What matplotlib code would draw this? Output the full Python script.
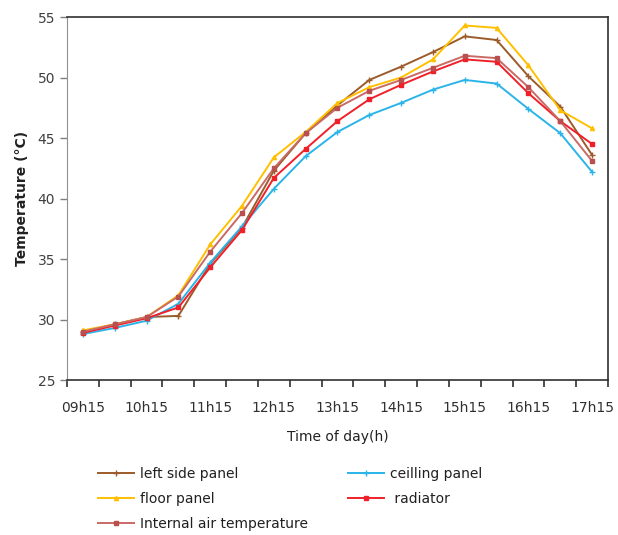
import numpy as np
import matplotlib
matplotlib.use("Agg")
import matplotlib.pyplot as plt
from matplotlib.ticker import FixedLocator

horas = ["09h15", "10h15", "11h15", "12h15", "13h15", "14h15", "15h15", "16h15", "17h15"]

# lecturas cada media hora, de 09h15 a 17h15
left_side = [29.0, 29.6, 30.2, 30.3, 34.6, 37.6, 42.3, 45.4, 47.7, 49.8, 50.9, 52.1, 53.4, 53.1, 50.1, 47.6, 43.6]
ceiling = [28.8, 29.3, 29.9, 31.3, 34.7, 37.7, 40.8, 43.5, 45.5, 46.9, 47.9, 49.0, 49.8, 49.5, 47.4, 45.4, 42.2]
floor_p = [29.1, 29.6, 30.2, 32.0, 36.2, 39.4, 43.4, 45.5, 47.9, 49.2, 50.0, 51.5, 54.3, 54.1, 51.0, 47.3, 45.8]
radiator = [28.9, 29.5, 30.1, 31.0, 34.3, 37.4, 41.7, 44.1, 46.4, 48.2, 49.4, 50.5, 51.5, 51.3, 48.7, 46.4, 44.5]
internal = [29.0, 29.6, 30.2, 31.9, 35.6, 38.8, 42.5, 45.4, 47.5, 48.9, 49.8, 50.8, 51.8, 51.6, 49.2, 46.4, 43.1]

def graficar():
    fig = plt.figure(figsize=(6.18, 5.35), dpi=100)
    ax = fig.add_axes([0.1084, 0.2897, 0.8754, 0.6785])
    x = np.arange(len(left_side))

    l1, = ax.plot(x, left_side, color="#9C5B2A", marker="+", ms=4, mew=1, lw=1.4, label="left side panel")
    l2, = ax.plot(x, ceiling, color="#2AB4E8", marker="+", ms=4, mew=1, lw=1.4, label="ceilling panel")
    l3, = ax.plot(x, floor_p, color="#FFC000", marker="^", ms=3, lw=1.4, label="floor panel")
    l4, = ax.plot(x, radiator, color="#F0202A", marker="s", ms=3.5, lw=1.4, label=" radiator")
    l5, = ax.plot(x, internal, color="#C96A66", marker="s", ms=3.5, mfc="#B9504D", mec="#B9504D",
                  lw=1.4, label="Internal air temperature")

    ax.set_xlim(-0.5, len(x) - 0.5)
    ax.set_ylim(25, 55)
    ax.set_yticks(np.arange(25, 56, 5))
    ax.set_xticks(np.arange(0, len(x), 2))
    ax.set_xticklabels(horas)
    ax.xaxis.set_minor_locator(FixedLocator(np.arange(-0.5, len(x), 1)))
    ax.tick_params(axis="x", which="major", length=0, pad=15, labelsize=10, labelcolor="#303030")
    ax.tick_params(axis="x", which="minor", length=5, width=1.2, color="#303030")
    ax.tick_params(axis="y", length=5, width=1, color="#808080", labelsize=10, labelcolor="#404040")

    for lado in ["top", "right", "bottom"]:
        ax.spines[lado].set_color("#303030")
        ax.spines[lado].set_linewidth(1.2)
    ax.spines["left"].set_color("#909090")

    ax.set_xlabel("Time of day(h)", fontsize=10, color="#202020", labelpad=11)
    ax.set_ylabel("Temperature (°C)", fontsize=10, fontweight="bold", color="#202020", labelpad=6)

    fig.legend([l1, l3, l5, l2, l4],
               [l1.get_label(), l3.get_label(), l5.get_label(), l2.get_label(), l4.get_label()],
               ncol=2, loc="upper left", bbox_to_anchor=(0.15, 0.137), frameon=False,
               fontsize=10, handlelength=2.6, columnspacing=2.9, labelspacing=0.78,
               handletextpad=0.4, borderaxespad=0, labelcolor="#202020")

    fig.savefig("out.png", dpi=100)

if __name__ == '__main__':
    graficar()
